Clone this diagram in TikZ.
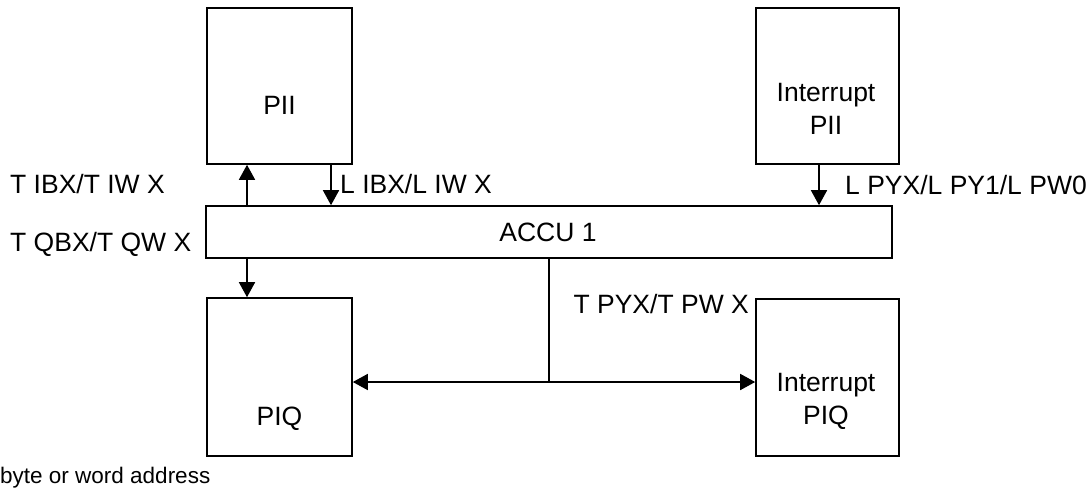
\documentclass[tikz,border=0pt]{standalone}
\usepackage{fontspec}
\setmainfont{Liberation Sans}
\usetikzlibrary{arrows.meta,positioning,calc}

\begin{document}
\begin{tikzpicture}[x=1pt, y=-1pt, font=\fontsize{26.5}{33}\selectfont,
  >={Triangle[length=15pt,width=16pt]},
  box/.style={draw, line width=1.6pt, inner sep=0pt},
  lbl/.style={inner sep=0pt, align=center},
  flow/.style={->, line width=1.6pt}]
\useasboundingbox (0,0) rectangle (1086,493);
% ---- image tables and accumulator ----
\node[box, minimum width=145pt, minimum height=156pt] (pii)  at (279.5,86)  {};
\node[box, minimum width=143pt, minimum height=156pt] (ipii) at (827.5,86)  {};
\node[box, minimum width=686pt, minimum height=52pt]  (accu) at (549,232)   {};
\node[box, minimum width=145pt, minimum height=158pt] (piq)  at (279.5,377) {};
\node[box, minimum width=143pt, minimum height=157pt] (ipiq) at (827.5,377.5) {};
% box texts
\node[lbl] (piitxt)  at (279.5,105) {PII};
\node[lbl] (ipiitxt) at (826,109)   {Interrupt\\PII};
\node[lbl] (accutxt) at (548,232)   {ACCU 1};
\node[lbl] (piqtxt)  at (279.5,419) {PIQ};
\node[lbl] (ipiqtxt) at (826,401)   {Interrupt\\PIQ};
% ---- transfers ----
\coordinate (tx) at (247,0);
\coordinate (lx) at (331,0);
\coordinate (px) at (819,0);
\coordinate (hy) at (0,382);
\draw[flow] (accu.north -| tx) -- (pii.south -| tx);
\draw[flow] (pii.south -| lx) -- (accu.north -| lx);
\draw[flow] (ipii.south -| px) -- (accu.north -| px);
\draw[flow] (accu.south -| tx) -- (piq.north -| tx);
\draw[line width=1.6pt] (accu.south) -- (accu.south |- hy);
\draw[flow, <->] (piq.east |- hy) -- (ipiq.west |- hy);
% ---- operation labels ----
\node[lbl, anchor=west] (tibx) at (10,184)  {T IBX/T IW X};
\node[lbl, anchor=west] (libx) at (340,184) {L IBX/L IW X};
\node[lbl, anchor=west] (lpyx) at (845,185) {L PYX/L PY1/L PW0};
\node[lbl, anchor=west] (tqbx) at (10,244)  {T QBX/T QW X};
\node[lbl, anchor=east] (tpyx) at (749,304) {T PYX/T PW X};
\node[lbl, anchor=west, font=\fontsize{22.5}{28}\selectfont] (note) at (0,478) {byte or word address};
\end{tikzpicture}
\end{document}
